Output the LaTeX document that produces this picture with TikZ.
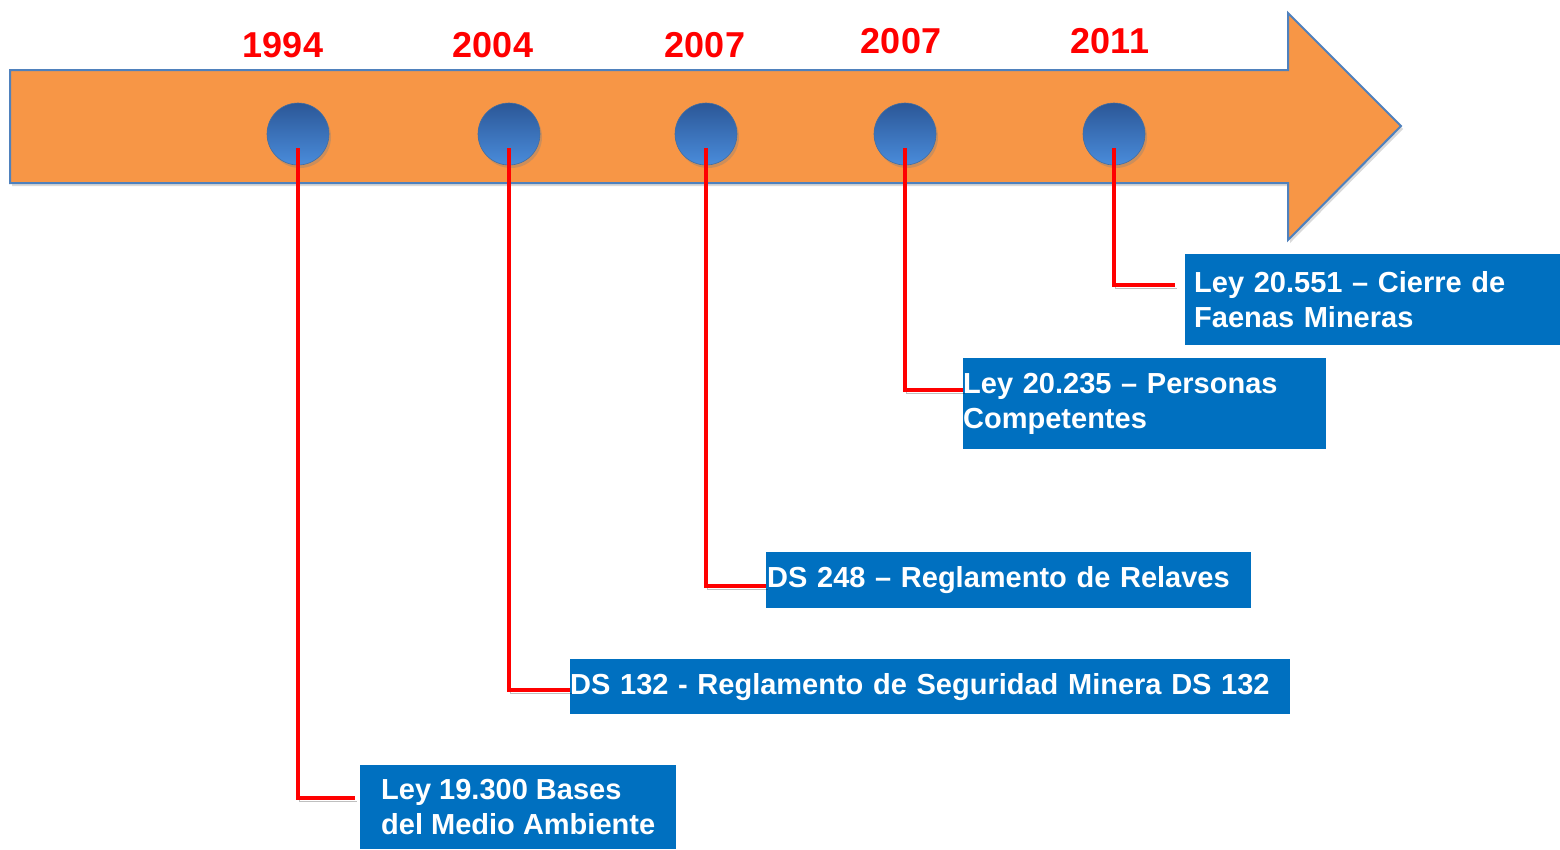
\documentclass[tikz,border=0pt]{standalone}
\usepackage{fontspec}
\setmainfont{Liberation Sans}
\usetikzlibrary{shapes, calc, shadows}

\definecolor{arroworange}{HTML}{F79646}
\definecolor{arrowedge}{HTML}{4F81BD}
\definecolor{lawblue}{HTML}{0070C0}
\definecolor{dottop}{HTML}{2B5797}
\definecolor{dotbottom}{HTML}{4A8CDB}

\tikzset{
  dot/.style={circle, minimum size=62pt, inner sep=0pt, top color=dottop, bottom color=dotbottom,
    draw=arrowedge!85!black, line width=0.6pt,
    drop shadow={opacity=0.35, shadow xshift=2pt, shadow yshift=-3pt}},
  year/.style={text=red, font=\bfseries\fontsize{36}{40}\selectfont},
  lawbox/.style={fill=lawblue, text=white, font=\bfseries\fontsize{29}{35}\selectfont,
    execute at begin node={\hyphenpenalty=10000 },
    align=left, anchor=north west, inner ysep=0pt},
  lead/.style={red, line width=4pt,
    preaction={draw=black, opacity=0.25, transform canvas={shift={(1.5pt,-2.5pt)}}}}
}

\begin{document}
\begin{tikzpicture}[x=1pt, y=-1pt]
\useasboundingbox (0,0) rectangle (1560,849);

\filldraw[fill=arroworange, draw=arrowedge, line width=2pt,
  drop shadow={opacity=0.3, shadow xshift=2pt, shadow yshift=-3pt}]
  (10,70) -- (1288,70) -- (1288,13) -- (1401,126) -- (1288,240) -- (1288,183) -- (10,183) -- cycle;

\node[year] (y1) at (283,45) {1994};
\node[year] (y2) at (493,45) {2004};
\node[year] (y3) at (705,45) {2007};
\node[year] (y4) at (901,41) {2007};
\node[year] (y5) at (1110,41) {2011};

\node[dot] (c1) at (298,134) {};
\node[dot] (c2) at (509,134) {};
\node[dot] (c3) at (706,134) {};
\node[dot] (c4) at (905,134) {};
\node[dot] (c5) at (1114,134) {};

\node[lawbox, inner xsep=19pt, minimum width=316pt, minimum height=84pt] (b1) at (360,765) {Ley 19.300 Bases\\del Medio Ambiente};
\node[lawbox, text width=720pt, inner xsep=0pt, minimum height=55pt] (b2) at (570,659) {DS 132 - Reglamento de Seguridad Minera DS 132};
\node[lawbox, text width=483pt, inner xsep=1pt, minimum height=56pt] (b3) at (766,552) {DS 248 – Reglamento de Relaves};
\node[lawbox, text width=363pt, inner xsep=0pt, minimum height=91pt] (b4) at (963,358) {Ley 20.235 – Personas\\Competentes};
\node[lawbox, text width=357pt, inner xsep=9pt, minimum height=91pt] (b5) at (1185,254) {Ley 20.551 – Cierre de\\Faenas Mineras};

\draw[lead, shorten >=5pt] ([yshift=-14pt]c1.center) |- ([yshift=9pt]b1.west);
\draw[lead] ([yshift=-14pt]c2.center) |- ([yshift=-3.5pt]b2.west);
\draw[lead] ([yshift=-14pt]c3.center) |- ([yshift=-6pt]b3.west);
\draw[lead] ([yshift=-14pt]c4.center) |- ([yshift=13.5pt]b4.west);
\draw[lead, shorten >=10pt] ([yshift=-14pt]c5.center) |- ([yshift=14.5pt]b5.west);
\end{tikzpicture}
\end{document}
